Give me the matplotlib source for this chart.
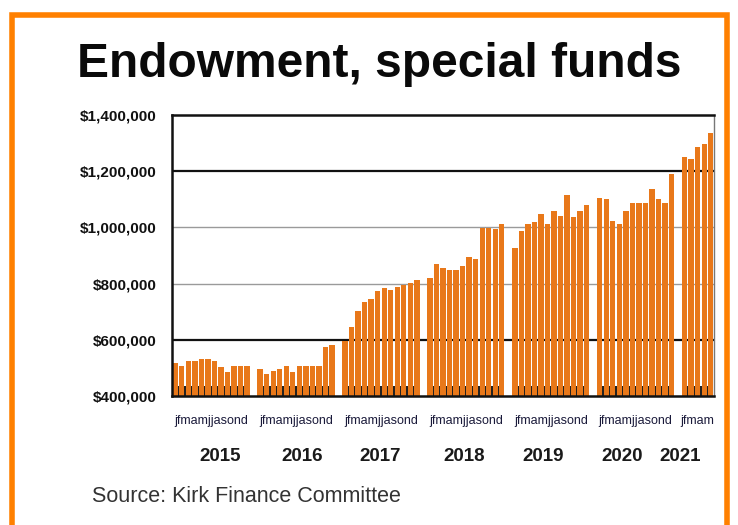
import matplotlib
matplotlib.use("Agg")
import matplotlib.pyplot as plt
from matplotlib.patches import Rectangle
from matplotlib.ticker import FuncFormatter

# ---- data ----
years = ["2015", "2016", "2017", "2018", "2019", "2020", "2021"]
month_letters = ["j", "f", "m", "a", "m", "j", "j", "a", "s", "o", "n", "d"]
v2015 = [517000, 505000, 526000, 526000, 530000, 530000, 526000, 504000, 487000, 505000, 505000, 505000]
v2016 = [497000, 478000, 490000, 497000, 505000, 487000, 508000, 508000, 508000, 505000, 576000, 582000]
v2017 = [597000, 647000, 701000, 734000, 745000, 772000, 783000, 776000, 788000, 796000, 802000, 812000]
v2018 = [820000, 868000, 856000, 850000, 850000, 862000, 895000, 888000, 999000, 999000, 993000, 1011000]
v2019 = [927000, 987000, 1011000, 1019000, 1049000, 1011000, 1058000, 1040000, 1114000, 1038000, 1058000, 1079000]
v2020 = [1106000, 1100000, 1022000, 1011000, 1058000, 1088000, 1088000, 1088000, 1136000, 1100000, 1088000, 1189000]
v2021 = [1249000, 1245000, 1285000, 1296000, 1336000]
yearly_values = [v2015, v2016, v2017, v2018, v2019, v2020, v2021]
y_ticks = [400000, 600000, 800000, 1000000, 1200000, 1400000]

# ---- layout ----
SLOTS_PER_YEAR = 13
year_label_x = [6.9, 19.4, 31.4, 44.2, 56.3, 68.4, 77.3]
bar_color = "#E8781A"

fig = plt.figure(figsize=(7.38, 5.25), dpi=100)
ax = fig.add_axes([172/738, 1-396/525, (714-172)/738, (396-115)/525])

xs, hs = [], []
for yi, vals in enumerate(yearly_values):
    for mi, v in enumerate(vals):
        xs.append(yi*SLOTS_PER_YEAR + mi)
        hs.append(v)

ax.bar(xs, [h - y_ticks[0] for h in hs], bottom=y_ticks[0], width=0.82,
       color=bar_color, edgecolor="none", zorder=2)

ax.set_xlim(-0.5, xs[-1] + 0.5)
ax.set_ylim(y_ticks[0], y_ticks[-1])

# grid lines
for yv in y_ticks[1:-1]:
    if yv in (600000, 1200000):
        ax.axhline(yv, color="#111111", lw=1.6, zorder=1)
    else:
        ax.axhline(yv, color="#9a9a9a", lw=1.0, zorder=1)

ax.set_yticks(y_ticks)
ax.yaxis.set_major_formatter(FuncFormatter(lambda v, p: "${:,.0f}".format(v)))
ax.tick_params(axis="y", length=0, pad=11, labelsize=11)
for t in ax.get_yticklabels():
    t.set_fontweight("bold")
    t.set_fontfamily("Liberation Sans")
    t.set_color("#111111")

# no major x labels; month letters drawn per year group
ax.set_xticks([])
minor = [x + 0.5 for x in xs[:-1] if (x + 1) in xs]
ax.set_xticks(minor, minor=True)
ax.tick_params(axis="x", which="minor", direction="in", length=7, width=1.6,
               color="#222222", labelbottom=False)

for yi, vals in enumerate(yearly_values):
    start = yi*SLOTS_PER_YEAR
    centre = start + (len(vals) - 1) / 2
    ax.text(centre, -0.09, "".join(month_letters[:len(vals)]),
            transform=ax.get_xaxis_transform(), ha="center", va="center",
            fontsize=9, family="Liberation Sans", color="#1a1a3a")

for yi, y in enumerate(years):
    ax.text(year_label_x[yi], -0.215, y, transform=ax.get_xaxis_transform(),
            ha="center", va="center", fontsize=13.5, fontweight="bold",
            family="Liberation Sans", color="#1a1a1a")

for s in ["left", "top", "bottom"]:
    ax.spines[s].set_color("#111111")
    ax.spines[s].set_linewidth(1.8)
ax.spines["right"].set_color("#777777")
ax.spines["right"].set_linewidth(1.0)

fig.text(379/738, 1-64/525, "Endowment, special funds", ha="center", va="center",
         fontsize=34.5, fontweight="bold", family="Liberation Sans", color="#0a0a0a")
fig.text(92/738, 1-497/525, "Source: Kirk Finance Committee", ha="left", va="center",
         fontsize=15.5, family="Liberation Sans", color="#333333")

fig.patches.append(Rectangle((12/738, -0.1), (727-12)/738, 1.1 - 15/525,
                             transform=fig.transFigure, fill=False,
                             edgecolor="#FF8000", linewidth=4, clip_on=False))

fig.savefig("out.png", dpi=100, facecolor="white")
